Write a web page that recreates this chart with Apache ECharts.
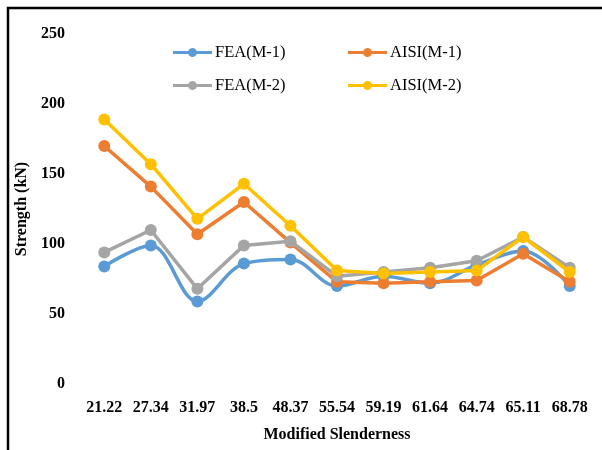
<!DOCTYPE html>
<html>
<head>
<meta charset="utf-8">
<script src="https://cdn.jsdelivr.net/npm/echarts@6/dist/echarts.min.js"></script>
<style>
  html, body { margin: 0; padding: 0; background: #fff; }
  #chart { width: 602px; height: 450px; }
</style>
</head>
<body>
<div id="chart"></div>
<script>
// Modified slenderness categories along the x axis
const slenderness = ['21.22', '27.34', '31.97', '38.5', '48.37', '55.54', '59.19', '61.64', '64.74', '65.11', '68.78'];

// Strength values (kN) per series
const feaM1  = [84, 99, 59, 86, 89, 70, 77, 72, 85, 95, 70];
const aisiM1 = [170, 141, 107, 130, 101, 73, 72, 73, 74, 93, 73];
const feaM2  = [94, 110, 68, 99, 102, 77, 80, 83, 88, 105, 83];
const aisiM2 = [189, 157, 118, 143, 113, 81, 79, 80, 81, 105, 80];

const seriesNames = ['FEA(M-1)', 'AISI(M-1)', 'FEA(M-2)', 'AISI(M-2)'];
const seriesColors = ['#5B9BD5', '#ED7D31', '#A5A5A5', '#FFC000'];
const seriesData = [feaM1, aisiM1, feaM2, aisiM2];
const seriesSmooth = [0.35, false, false, false];

const serif = '"Liberation Serif", "Times New Roman", serif';

// Legend glyph: a short line with a dot in the middle
const lineDotIcon = 'path://M0,3.5 L15.26,3.5 A4.5,4.5 0 0 1 23.74,3.5 L39,3.5 L39,6.5 L23.74,6.5 A4.5,4.5 0 0 1 15.26,6.5 L0,6.5 Z';

const legendPos = [
  { left: 173, top: 44 },
  { left: 348, top: 44 },
  { left: 173, top: 77 },
  { left: 348, top: 77 }
];

const chart = echarts.init(document.getElementById('chart'));
chart.setOption({
  animation: false,
  backgroundColor: '#fff',
  color: seriesColors,
  graphic: [{
    type: 'rect',
    shape: { x: 8, y: 8, width: 620, height: 470 },
    style: { fill: 'none', stroke: '#000', lineWidth: 2.5 },
    silent: true
  }],
  legend: seriesNames.map((n, i) => ({
    data: [{ name: n, icon: lineDotIcon }],
    left: legendPos[i].left,
    top: legendPos[i].top,
    padding: 0,
    itemWidth: 39,
    itemHeight: 9,
    itemGap: 0,
    textStyle: { fontFamily: serif, fontSize: 16.5, color: '#000', padding: [0, 0, 0, -2] }
  })),
  grid: { left: 81, right: 9, top: 34, bottom: 66 },
  xAxis: {
    type: 'category',
    data: slenderness,
    boundaryGap: true,
    axisLine: { show: false },
    axisTick: { show: false },
    axisLabel: {
      interval: 0,
      hideOverlap: false,
      fontFamily: serif, fontWeight: 'bold', fontSize: 16, color: '#000', margin: 16
    },
    name: 'Modified Slenderness',
    nameLocation: 'middle',
    nameGap: 43,
    nameTextStyle: { fontFamily: serif, fontWeight: 'bold', fontSize: 16, color: '#000' }
  },
  yAxis: {
    type: 'value',
    min: 0,
    max: 250,
    interval: 50,
    splitLine: { show: false },
    axisLine: { show: false },
    axisTick: { show: false },
    axisLabel: { fontFamily: serif, fontWeight: 'bold', fontSize: 16, color: '#000', margin: 16 },
    name: 'Strength (kN)',
    nameLocation: 'middle',
    nameGap: 45,
    nameTextStyle: { fontFamily: serif, fontWeight: 'bold', fontSize: 16, color: '#000' }
  },
  series: seriesNames.map((n, i) => ({
    name: n,
    type: 'line',
    data: seriesData[i],
    smooth: seriesSmooth[i],
    symbol: 'circle',
    symbolSize: 12,
    lineStyle: { width: 3.5, color: seriesColors[i] },
    itemStyle: { color: seriesColors[i] },
    z: 2 + i
  }))
});
</script>
</body>
</html>
